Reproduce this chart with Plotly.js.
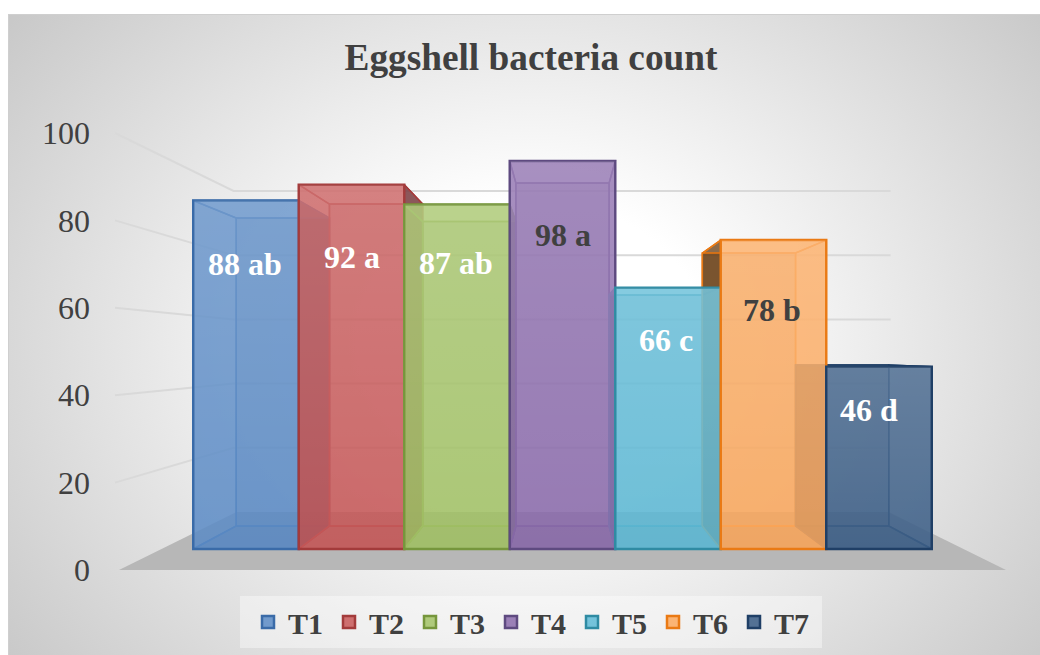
<!DOCTYPE html>
<html><head><meta charset="utf-8">
<script src="https://cdn.plot.ly/plotly-3.0.1.min.js"></script>
<style>
html,body{margin:0;padding:0;background:#fff;width:1040px;height:655px;overflow:hidden}
#bg{position:absolute;left:8px;top:14px;width:1040px;height:650px;border:1px solid #cfcfcf;box-sizing:border-box;
background:radial-gradient(ellipse 700px 560px at 522px 326px,#fff 0%,#fff 25%,#c4c4c4 100%)}
#plot{position:absolute;left:0;top:0;width:1040px;height:655px}
</style></head><body><div id="bg"></div><div id="plot"></div>
<script>
const categories=['T1','T2','T3','T4','T5','T6','T7'];
const values=[88,92,87,98,66,78,46];
const dataLabels=['88 ab','92 a','87 ab','98 a','66 c','78 b','46 d'];
const tickValues=[0,20,40,60,80,100];
const frontColors=['rgba(92,140,198,0.86)','rgba(200,90,90,0.86)','rgba(164,196,104,0.86)','rgba(140,108,172,0.86)','rgba(94,186,214,0.86)','rgba(253,170,96,0.86)','rgba(62,96,136,0.88)'];
const edgeColors=['#3a6ba8','#a33b3b','#76963c','#5e4a80','#2f8ba3','#ea7a14','#1f3f66'];
const wallColors=['rgba(30,62,105,','rgba(105,35,40,','rgba(70,95,30,','rgba(58,38,88,','rgba(28,95,115,','rgba(105,62,20,','rgba(18,40,68,'];
const labelColors=['#fff','#fff','#fff','#404040','#fff','#404040','#fff'];
const labelShiftX=[-1,0,-1,0,-2,-2,-10];
const labelShiftY=[3,-3,7,0,-3,-11,-9];

const W=1040,H=655;
const pxPerCat=105.5, cx=3, cPx=562.5;
const xRange=[cx-cPx/pxPerCat, cx+(W-cPx)/pxPerCat];
const wallRange=[(570-H)/4.37,570/4.37];
const barRange=[(549-H)/3.96,549/3.96];
const vanishY=50, kBar=0.8836, kWall=0.735;
const px=(x,k)=>cx+k*(x-cx), py=(v,k)=>vanishY+k*(v-vanishY);

const traces=[];
const fl=-1.204, fr=7.204;
traces.push({x:[fl,fr,px(fr,kWall),px(fl,kWall),fl],y:[0,0,py(0,kWall),py(0,kWall),0],type:'scatter',mode:'lines',
 fill:'toself',fillcolor:'#b7b7b7',line:{width:0},showlegend:false,hoverinfo:'skip',xaxis:'x',yaxis:'y'});
const gl=-1.242, gr=6.11;
tickValues.forEach(t=>{
 if(t===0)return;
 traces.push({x:[gl,px(gl,kWall),gr],y:[t,py(t,kWall),py(t,kWall)],type:'scatter',mode:'lines',
  line:{color:'#d9d9d9',width:2},showlegend:false,hoverinfo:'skip',xaxis:'x',yaxis:'y'});
});
function face(xs,ys,fill,line,lw){
 traces.push({x:xs,y:ys,type:'scatter',mode:'lines',fill:'toself',fillcolor:fill,line:{color:line,width:lw},
  showlegend:false,hoverinfo:'skip',xaxis:'x',yaxis:'y2'});
}
values.forEach((v,i)=>{
 const l=i-0.5,r=i+0.5,w=wallColors[i],e=edgeColors[i];
 const bl=px(l,kBar),br=px(r,kBar),b0=py(0,kBar),bv=py(v,kBar);
 const leftAlpha=i>3?'0.85)':'0.05)', rightAlpha=i<3?'0.85)':'0.05)';
 face([bl,br,br,bl,bl],[b0,b0,bv,bv,b0],w+'0.22)',e,1.5);
 face([l,r,br,bl,l],[0,0,b0,b0,0],w+'0.32)',e,1.5);
 face([l,bl,bl,l,l],[0,b0,bv,v,0],w+leftAlpha,e,1.5);
 face([r,br,br,r,r],[0,b0,bv,v,0],w+rightAlpha,e,1.5);
 face([l,r,br,bl,l],[v,v,bv,bv,v],'rgba(255,255,255,0.10)',e,1.5);
});
values.forEach((v,i)=>{
 traces.push({type:'bar',name:categories[i],x:[i],y:[v],width:[1],xaxis:'x',yaxis:'y3',
  marker:{color:frontColors[i],line:{color:edgeColors[i],width:2.5}},hoverinfo:'name+y'});
});
values.forEach((v,i)=>{
 traces.push({x:[i-0.49,i+0.49,i+0.49,i-0.49,i-0.49],y:[0,0,v,v,0],type:'scatter',mode:'lines',fill:'toself',
  line:{width:0},showlegend:false,hoverinfo:'skip',xaxis:'x',yaxis:'y3',
  fillgradient:{type:'vertical',colorscale:[[0,'rgba(255,255,255,0)'],[1,'rgba(255,255,255,0.12)']]}});
});

const annotations=values.map((v,i)=>({x:i,y:v*0.81,xref:'x',yref:'y3',text:dataLabels[i],showarrow:false,
 xshift:labelShiftX[i],yshift:labelShiftY[i],font:{family:'Liberation Serif',size:32,color:labelColors[i],weight:700}}));

const layout={
 width:W,height:H,margin:{l:0,r:0,t:0,b:0},paper_bgcolor:'rgba(0,0,0,0)',plot_bgcolor:'rgba(0,0,0,0)',
 barmode:'overlay',showlegend:true,
 font:{family:'Liberation Serif',color:'#404040'},
 title:{text:'<b>Eggshell bacteria count</b>',x:531/W,xanchor:'center',xref:'paper',y:1-57/H,yref:'paper',yanchor:'middle',
  font:{family:'Liberation Serif',size:37.3,color:'#404040'}},
 xaxis:{range:xRange,domain:[0,1],visible:false,fixedrange:true},
 yaxis:{range:wallRange,domain:[0,1],anchor:'free',position:90/W,tickmode:'array',tickvals:tickValues,ticktext:tickValues.map(String),
  ticks:'',showgrid:false,zeroline:false,showline:false,tickfont:{family:'Liberation Serif',size:32,color:'#404040'},fixedrange:true},
 yaxis2:{range:barRange,overlaying:'y',visible:false,fixedrange:true},
 yaxis3:{range:barRange,overlaying:'y',visible:false,fixedrange:true},
 legend:{orientation:'h',x:248/W,xanchor:'left',y:1-596/H,yanchor:'top',bgcolor:'rgba(0,0,0,0)',borderwidth:0,
  entrywidth:36,entrywidthmode:'pixels',font:{family:'Liberation Serif',size:30,color:'#404040',weight:700},traceorder:'normal'},
 shapes:[{type:'rect',xref:'paper',yref:'paper',x0:240/W,x1:822/W,y0:1-648/H,y1:1-596/H,fillcolor:'rgba(255,255,255,0.4)',line:{width:0},layer:'below'}],
 annotations:annotations
};
Plotly.newPlot('plot',traces,layout,{displayModeBar:false});
</script></body></html>
